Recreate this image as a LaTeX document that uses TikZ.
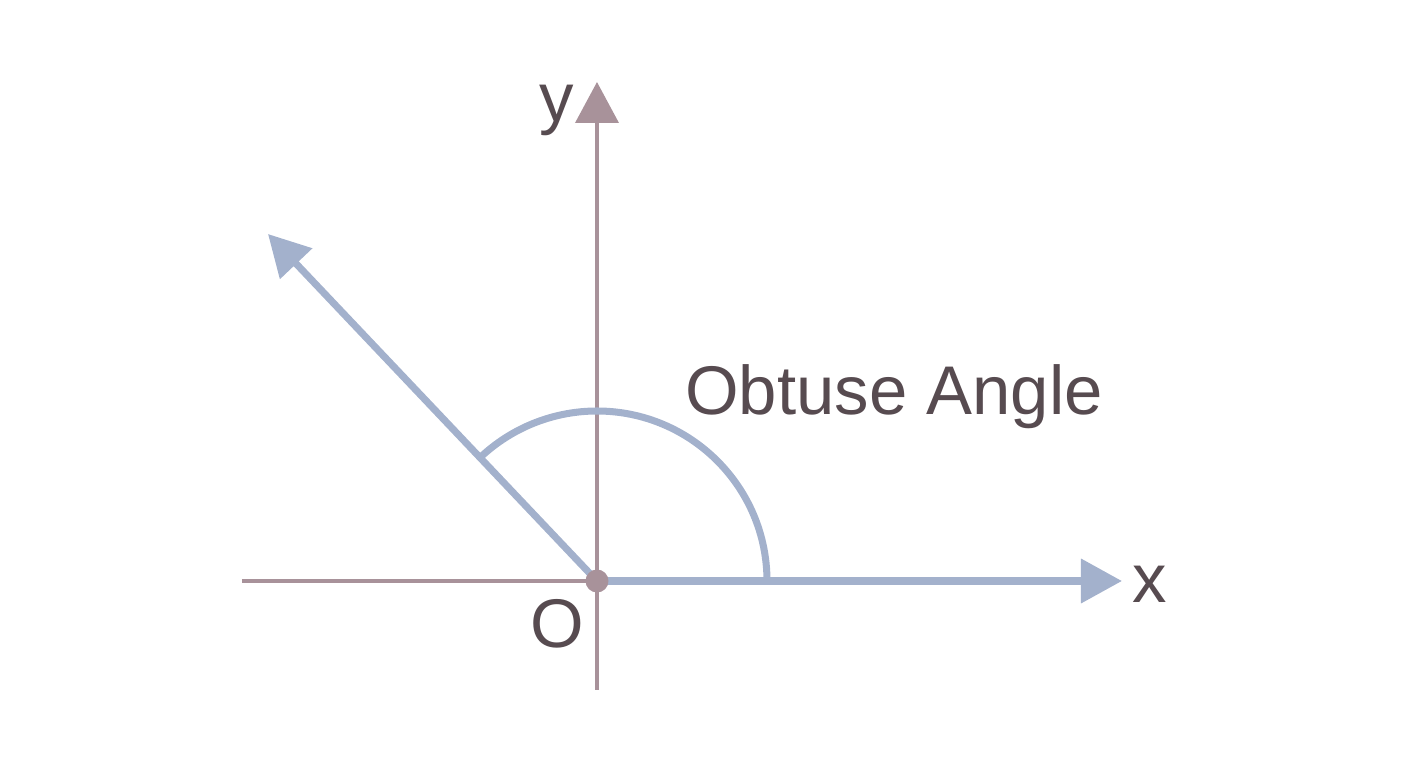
\documentclass[tikz,border=0pt]{standalone}
\usepackage{fontspec}
\setmainfont{Liberation Sans}
\usepackage{tikz}
\usetikzlibrary{arrows.meta}
\definecolor{raycol}{HTML}{A3B1CC}
\definecolor{axiscol}{HTML}{A8929A}
\definecolor{labelcol}{HTML}{574B50}

\begin{document}
\begin{tikzpicture}[
    axisline/.style={axiscol,line width=1.1pt},
    rayline/.style={raycol,line width=2pt},
    tiptri/.style={-{Triangle[length=4.1mm,width=4.3mm]}},
    lbl/.style={labelcol,font=\fontsize{19.6}{24}\selectfont,inner sep=0pt,anchor=base}]
  \useasboundingbox (-5.97,-1.87) rectangle (8.11,5.81);
   \coordinate (Origin) at (0,0);
   \coordinate (Xleft) at (-3.55,0);
   \coordinate (Xtip) at (5.25,0);
   \coordinate (Ybot) at (0,-1.09);
   \coordinate (Ytip) at (0,4.99);
   \coordinate (Rtip) at (-3.29,3.47);
% axes
  \draw[axisline] (Xleft) -- (Origin);
  \draw[axisline] (Ybot) -- (Origin);
  \draw[axisline,tiptri] (Origin) -- (Ytip);
% the two arms and the arc between them
  \draw[rayline] (1.70,0) arc[start angle=0,end angle=133.5,radius=1.70];
  \draw[rayline,tiptri] (Origin) -- (Xtip);
  \draw[rayline,tiptri] (Origin) -- (Rtip);
  \node[circle,fill=axiscol,inner sep=0pt,minimum size=0.23cm] (dot) at (Origin) {};
% labels
  \node[lbl] (ylab) at (-0.40,4.59) {y};
  \node[lbl] (xlab) at (5.53,-0.22) {x};
  \node[lbl] (olab) at (-0.40,-0.67) {O};
  \node[lbl] (anglelab) at (2.97,1.66) {Obtuse Angle};
 \end{tikzpicture}
\end{document}
